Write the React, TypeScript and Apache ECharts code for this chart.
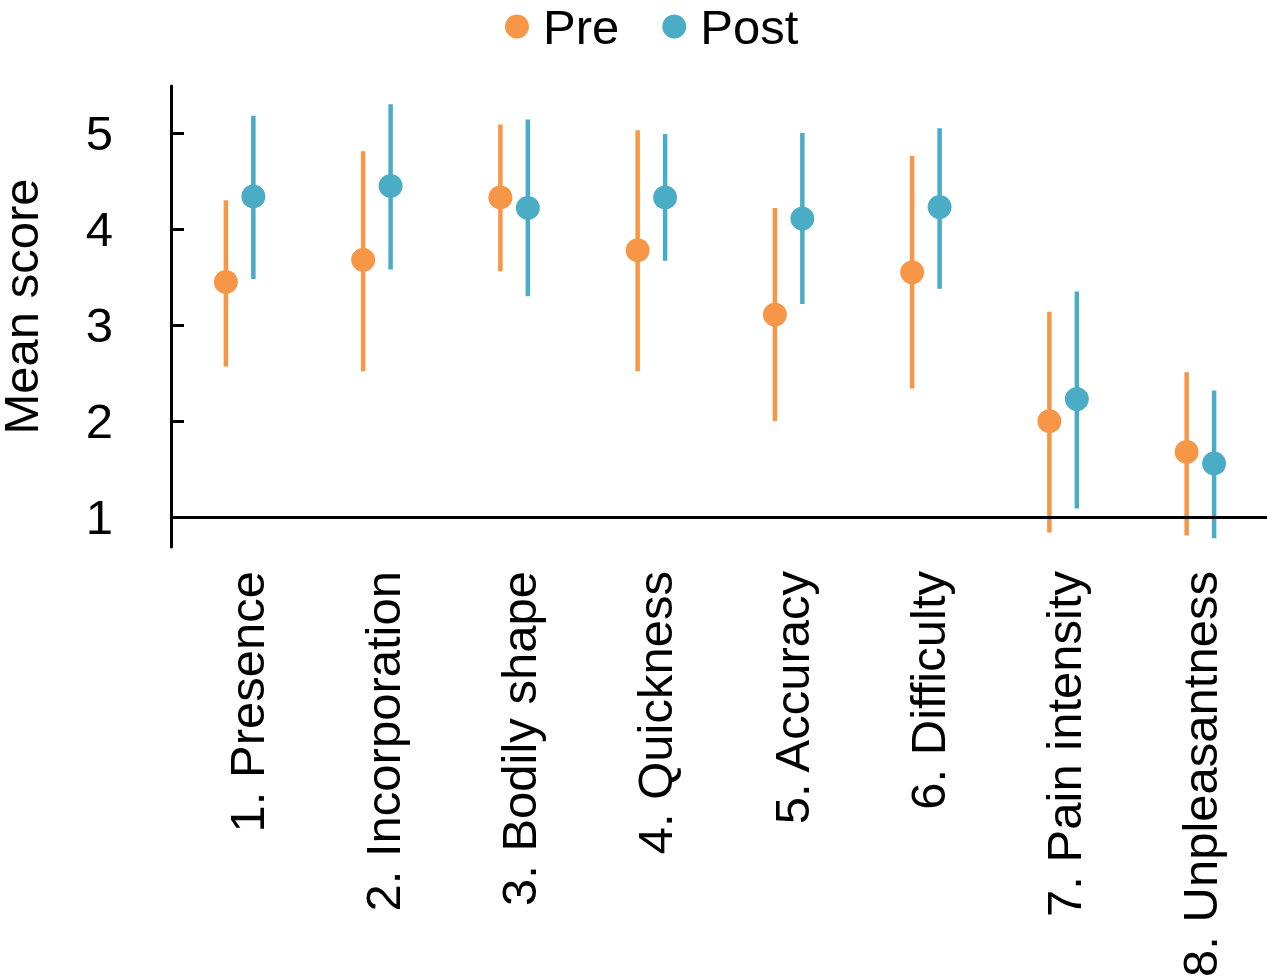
import React, { useEffect, useRef } from "react";
import * as echarts from "echarts";

const categories = [
  "1. Presence",
  "2. Incorporation",
  "3. Bodily shape",
  "4. Quickness",
  "5. Accuracy",
  "6. Difficulty",
  "7. Pain intensity",
  "8. Unpleasantness",
];

const preMean = [3.45, 3.68, 4.33, 3.78, 3.11, 3.55, 2.0, 1.68];
const preLow = [2.57, 2.52, 3.56, 2.52, 2.0, 2.34, 0.84, 0.81];
const preHigh = [4.3, 4.81, 5.09, 5.03, 4.22, 4.76, 3.14, 2.51];

const postMean = [4.34, 4.45, 4.22, 4.33, 4.11, 4.23, 2.23, 1.56];
const postLow = [3.48, 3.58, 3.3, 3.67, 3.22, 3.38, 1.09, 0.78];
const postHigh = [5.18, 5.3, 5.14, 4.99, 5.0, 5.05, 3.35, 2.32];

const yTicks = [1, 2, 3, 4, 5];

const PRE_COLOR = "#F79646";
const POST_COLOR = "#4BACC6";
const FONT = "'Liberation Sans', Arial, Helvetica, sans-serif";
const FS = 49;

function makeRender(offsetFrac: number) {
  return (params: any, api: any) => {
    const x = api.value(0);
    const m = api.value(1);
    const lo = api.value(2);
    const hi = api.value(3);
    const c = api.coord([x, m]);
    const t = api.coord([x, hi]);
    const b = api.coord([x, lo]);
    const band = api.size([1, 0])[0];
    const cx = c[0] + offsetFrac * band;
    const color = api.visual("color");
    return {
      type: "group",
      children: [
        {
          type: "line",
          shape: { x1: cx, y1: t[1], x2: cx, y2: b[1] },
          style: { stroke: color, lineWidth: 4.5 },
        },
        {
          type: "circle",
          shape: { cx, cy: c[1], r: 12 },
          style: { fill: color },
        },
      ],
    };
  };
}

export default function App() {
  const ref = useRef<HTMLDivElement>(null);
  useEffect(() => {
    if (!ref.current) return;
    const chart = echarts.init(ref.current, undefined, { renderer: "svg" });
    const preData = categories.map((_, i) => [i, preMean[i], preLow[i], preHigh[i]]);
    const postData = categories.map((_, i) => [i, postMean[i], postLow[i], postHigh[i]]);
    chart.setOption({
      animation: false,
      backgroundColor: "#ffffff",
      textStyle: { fontFamily: FONT },
      legend: {
        data: ["Pre", "Post"],
        top: 2,
        left: 505,
        padding: 0,
        icon: "circle",
        itemWidth: 24,
        itemHeight: 24,
        itemGap: 43,
        textStyle: {
          fontSize: FS,
          lineHeight: 40,
          color: "#000",
          fontFamily: FONT,
          padding: [0, 0, 0, 9],
        },
      },
      grid: [
        { left: 171, top: 86, width: 1098, height: 461, outerBoundsMode: "none", containLabel: false },
        { left: 179, top: 86, width: 1089, height: 461, outerBoundsMode: "none", containLabel: false },
      ],
      xAxis: [
        {
          type: "category",
          gridIndex: 0,
          data: categories,
          axisLine: { show: false },
          axisTick: { show: false },
          splitLine: { show: false },
          axisLabel: { show: false },
        },
        {
          type: "category",
          gridIndex: 1,
          data: categories,
          axisLine: { show: false },
          axisTick: { show: false },
          splitLine: { show: false },
          axisLabel: {
            interval: 0,
            rotate: 90,
            margin: 24,
            fontSize: FS,
            color: "#000",
            fontFamily: FONT,
          },
        },
      ],
      yAxis: [
        {
          type: "value",
          gridIndex: 0,
          min: 0.69,
          max: 5.49,
          name: "Mean score",
          nameLocation: "middle",
          nameRotate: 90,
          nameGap: 130,
          nameTextStyle: {
            fontSize: FS,
            lineHeight: 40,
            color: "#000",
            fontFamily: FONT,
            padding: [0, 0, 0, 20],
          },
          splitLine: { show: false },
          axisLine: { show: true, lineStyle: { color: "#000", width: 3 } },
          axisTick: {
            show: true,
            inside: true,
            length: 13,
            lineStyle: { color: "#000", width: 3 },
            customValues: yTicks,
          },
          axisLabel: {
            margin: 58,
            fontSize: FS,
            color: "#000",
            fontFamily: FONT,
            customValues: yTicks,
          },
        },
        {
          type: "value",
          gridIndex: 1,
          min: 0.69,
          max: 5.49,
          show: false,
        },
      ],
      series: [
        {
          name: "Pre",
          type: "custom",
          itemStyle: { color: PRE_COLOR },
          renderItem: makeRender(-0.1),
          encode: { x: 0, y: [1, 2, 3] },
          data: preData,
          clip: false,
        },
        {
          name: "Post",
          type: "custom",
          itemStyle: { color: POST_COLOR },
          renderItem: makeRender(0.1),
          encode: { x: 0, y: [1, 2, 3] },
          data: postData,
          clip: false,
        },
        {
          name: "baseline",
          type: "line",
          data: [],
          z: 10,
          markLine: {
            silent: true,
            symbol: "none",
            label: { show: false },
            lineStyle: { color: "#000", width: 3, type: "solid" },
            data: [{ yAxis: 1 }],
          },
        },
      ],
    });
    return () => chart.dispose();
  }, []);
  return (
    <div
      ref={ref}
      style={{ position: "absolute", left: 0, top: 0, width: 1267, height: 979 }}
    />
  );
}
